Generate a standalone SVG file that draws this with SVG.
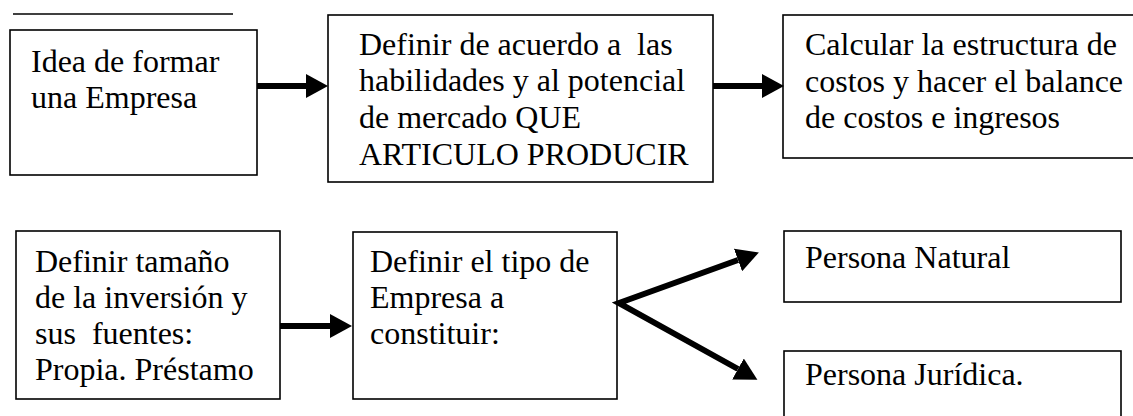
<svg xmlns="http://www.w3.org/2000/svg" width="1133" height="416" viewBox="0 0 1133 416">
<style>
.box{fill:#fff;stroke:#000;stroke-width:1.6}
.t{font-family:'Liberation Serif','Tinos','DejaVu Serif',serif;font-size:32px;fill:#000}
.conn{stroke:#000;stroke-width:6;fill:none}
</style>
<defs>
<marker id="ah" viewBox="0 0 3.7 4" refX="0" refY="2" markerWidth="3.7" markerHeight="4" orient="auto-start-reverse" markerUnits="strokeWidth">
<path d="M0,0 L3.7,2 L0,4 z" fill="#000"/>
</marker>
</defs>
<line x1="13" y1="14" x2="233" y2="14" stroke="#000" stroke-width="1.4"/>
<g id="n1">
<rect class="box" x="10" y="30" width="247" height="145"/>
<text class="t" x="31" y="72">Idea de formar</text>
<text class="t" x="31" y="108">una Empresa</text>
</g>
<g id="n2">
<rect class="box" x="328" y="15" width="385" height="167"/>
<text class="t" x="359" y="55" xml:space="preserve">Definir de acuerdo a  las</text>
<text class="t" x="359" y="91">habilidades y al potencial</text>
<text class="t" x="359" y="128">de mercado QUE</text>
<text class="t" x="359" y="165">ARTICULO PRODUCIR</text>
</g>
<g id="n3">
<rect class="box" x="783" y="15" width="360" height="143"/>
<text class="t" x="805" y="55">Calcular la estructura de</text>
<text class="t" x="805" y="92">costos y hacer el balance</text>
<text class="t" x="805" y="128">de costos e ingresos</text>
</g>
<g id="n4">
<rect class="box" x="16" y="231" width="264" height="168"/>
<text class="t" x="35" y="272">Definir tamaño</text>
<text class="t" x="35" y="308">de la inversión y</text>
<text class="t" x="35" y="344" xml:space="preserve">sus  fuentes:</text>
<text class="t" x="35" y="380">Propia. Préstamo</text>
</g>
<g id="n5">
<rect class="box" x="353" y="232" width="264" height="167"/>
<text class="t" x="370" y="272">Definir el tipo de</text>
<text class="t" x="370" y="308">Empresa a</text>
<text class="t" x="370" y="344">constituir:</text>
</g>
<g id="n6">
<rect class="box" x="784" y="231" width="337" height="71"/>
<text class="t" x="805" y="268">Persona Natural</text>
</g>
<g id="n7">
<rect class="box" x="784" y="351" width="337" height="80"/>
<text class="t" x="805" y="385">Persona Jurídica.</text>
</g>
<g id="connectors">
<line class="conn" x1="257" y1="86" x2="306" y2="86" marker-end="url(#ah)"/>
<line class="conn" x1="713" y1="86" x2="762" y2="86" marker-end="url(#ah)"/>
<line class="conn" x1="280" y1="326" x2="330" y2="326" marker-end="url(#ah)"/>
<path class="conn" d="M738,260 L619,303 L738,369" stroke-miterlimit="10" marker-start="url(#ah)" marker-end="url(#ah)"/>
</g>
</svg>
